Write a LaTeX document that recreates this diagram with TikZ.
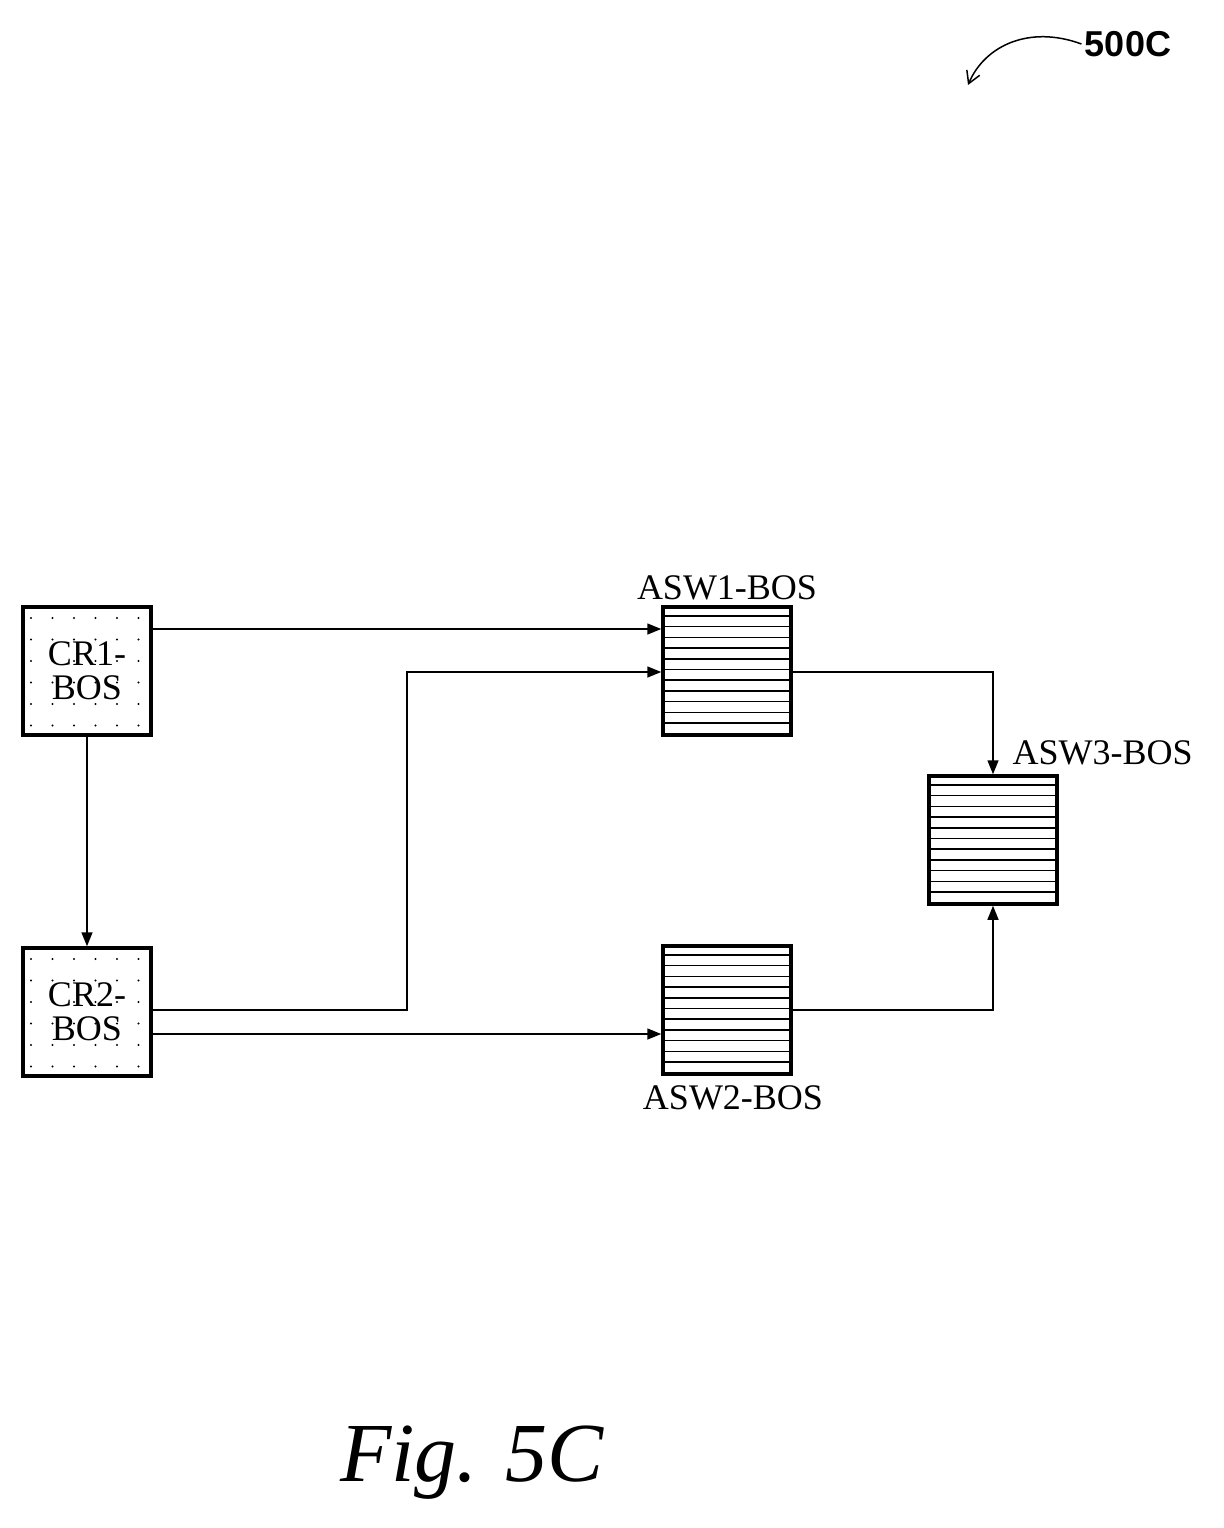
\documentclass[tikz,border=0pt]{standalone}
\usepackage{fontspec}
\setmainfont{Liberation Serif}
\newfontfamily\lsans{Liberation Sans}
\usetikzlibrary{arrows.meta}
\begin{document}
\begin{tikzpicture}[x=1pt,y=-1pt,
  box/.style={draw,line width=3.5pt,minimum width=128pt,minimum height=128pt,inner sep=0pt},
  dot/.style={box,font=\fontsize{36}{34}\selectfont,align=center},
  lab/.style={font=\fontsize{36}{38}\selectfont},
  conn/.style={line width=1.5pt,-{Triangle[length=14pt,width=11pt]}}]
\useasboundingbox (0,0) rectangle (1223,1528);
\foreach \cy in {606,947}{
  \foreach \i in {0,...,5} \foreach \j in {0,...,5}
    \fill (31+\i*21.5+\j*0 ,{\cy+12+\j*21.5}) circle (1.2pt);
}
\node[dot] (cr1) at (87,671) {CR1-\\BOS};
\node[dot] (cr2) at (87,1012) {CR2-\\BOS};
\foreach \n/\x/\y in {a1/727/671,a2/727/1010,a3/993/840}{
  \node[box] (\n) at (\x,\y) {};
  \foreach \k in {1,...,11} \draw[line width=1.5pt] ([yshift=-\k*10.7pt]\n.north west) -- ([yshift=-\k*10.7pt]\n.north east);
}
\node[lab,anchor=south] at ([yshift=2pt]a1.north) {ASW1-BOS};
\node[lab,anchor=north] at ([xshift=6pt,yshift=-6pt]a2.south) {ASW2-BOS};
\node[lab,anchor=south west] at ([xshift=16pt,yshift=6pt]a3.north) {ASW3-BOS};
\draw[conn] (cr1.east |- 0,629) -- (a1.west |- 0,629);
\draw[conn] (cr2.east |- 0,1010) -| (407,672) -- (a1.west |- 0,672);
\draw[conn] (cr2.east |- 0,1034) -- (a2.west |- 0,1034);
\draw[conn] (cr1.south) -- (cr2.north);
\draw[conn] (a1.east |- 0,672) -| (a3.north);
\draw[conn] (a2.east |- 0,1010) -| (a3.south);
\node[font=\lsans\bfseries\fontsize{36}{38}\selectfont] (ref) at (1128,44) {500C};
\draw[line width=1.5pt,-{Straight Barb[length=12pt,width=14pt]}] (ref.west) .. controls (1030,25) and (985,45) .. (968,85);
\node[font=\itshape\fontsize{84}{88}\selectfont] at (472,1463) {Fig. 5C};
\end{tikzpicture}
\end{document}
